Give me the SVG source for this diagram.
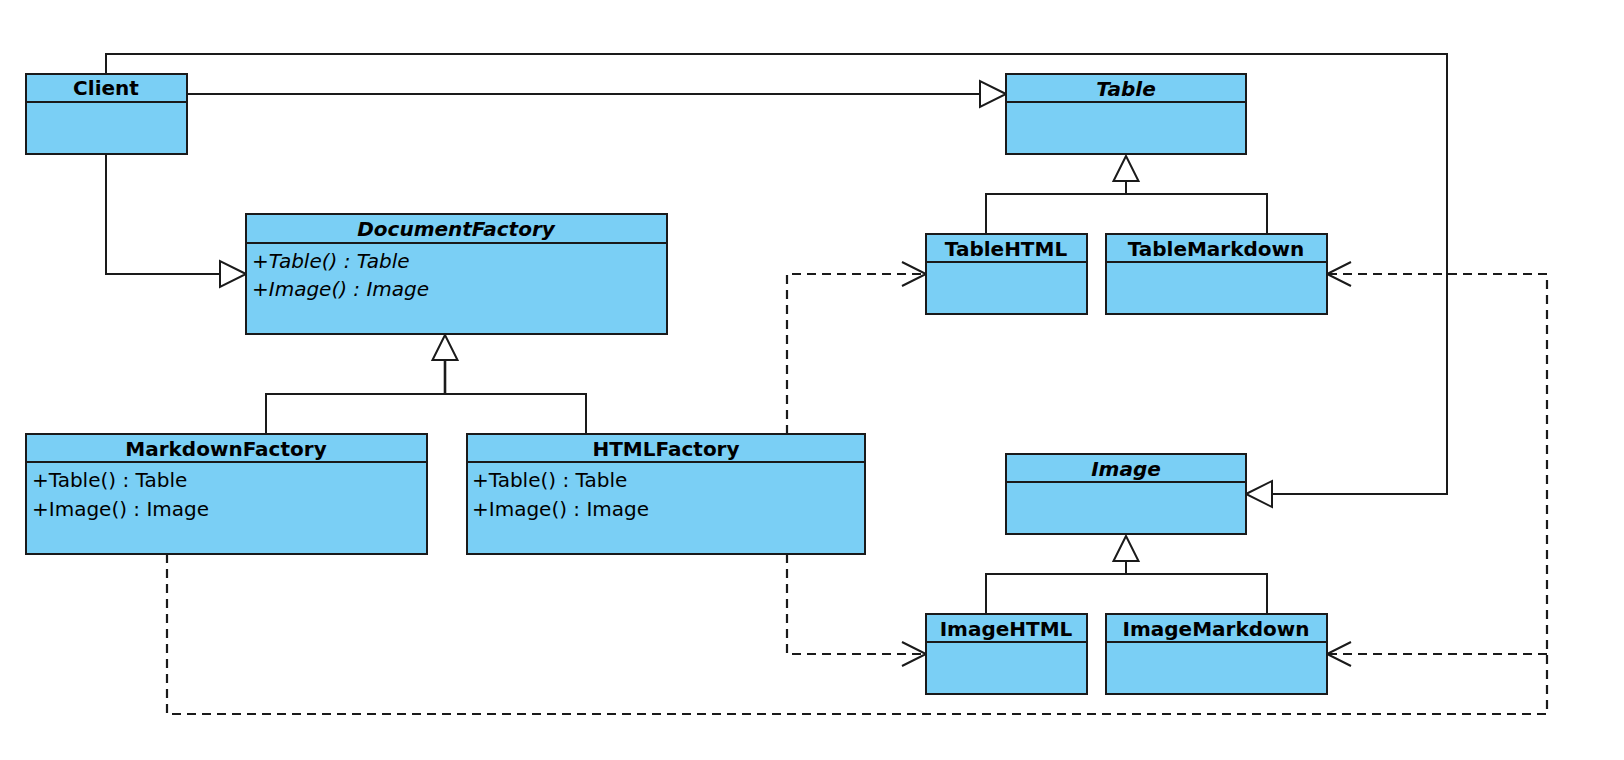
<svg xmlns="http://www.w3.org/2000/svg" width="1624" height="760" viewBox="0 0 1624 760">
<style>
.box{fill:#7acff5;stroke:#1a1a1a;stroke-width:2}
.div{stroke:#1a1a1a;stroke-width:2}
.t{font-family:"DejaVu Sans",sans-serif;font-size:20px;fill:#000}
.b{font-weight:bold}
.i{font-style:italic}
.ln{fill:none;stroke:#1a1a1a;stroke-width:2}
.dl{fill:none;stroke:#1a1a1a;stroke-width:2.2;stroke-dasharray:9,6}
.tri{fill:#fff;stroke:#1a1a1a;stroke-width:2}
.open{fill:none;stroke:#1a1a1a;stroke-width:2}
</style>
<rect width="1624" height="760" fill="#fff"/>
<g id="connectors">
  <path class="ln" d="M106,74 V54 H1447 V494 H1272"/>
  <polygon class="tri" points="1246,494 1272,481 1272,507"/>
  <path class="ln" d="M187,94 H980"/>
  <polygon class="tri" points="1006,94 980,81 980,107"/>
  <path class="ln" d="M106,154 V274 H220"/>
  <polygon class="tri" points="246,274 220,261 220,287"/>
  <path class="ln" d="M266,434 V394 H586 V434"/>
  <path class="ln" d="M445,394 V360" style="stroke-width:2.6"/>
  <polygon class="tri" points="445,335 432.5,360 457.5,360"/>
  <path class="ln" d="M986,234 V194 H1267 V234"/>
  <path class="ln" d="M1126,194 V181"/>
  <polygon class="tri" points="1126,156 1113.5,181 1138.5,181"/>
  <path class="ln" d="M986,614 V574 H1267 V614"/>
  <path class="ln" d="M1126,574 V561"/>
  <polygon class="tri" points="1126,536 1113.5,561 1138.5,561"/>
  <path class="dl" d="M787,434 V274 H925"/>
  <polyline class="open" points="902,262 926,274 902,286"/>
  <path class="dl" d="M787,554 V654 H925"/>
  <polyline class="open" points="902,642 926,654 902,666"/>
  <path class="dl" d="M167,554 V714 H1547 V274 H1328"/>
  <polyline class="open" points="1351,262 1327,274 1351,286"/>
  <path class="dl" d="M1547,654 H1328"/>
  <polyline class="open" points="1351,642 1327,654 1351,666"/>
</g>
<g id="Client">
  <rect class="box" x="26" y="74" width="161" height="80"/>
  <line class="div" x1="26" y1="102" x2="187" y2="102"/>
  <text class="t b" x="106" y="95" text-anchor="middle">Client</text>
</g>
<g id="Table">
  <rect class="box" x="1006" y="74" width="240" height="80"/>
  <line class="div" x1="1006" y1="102" x2="1246" y2="102"/>
  <text class="t b i" x="1126" y="96" text-anchor="middle">Table</text>
</g>
<g id="DocumentFactory">
  <rect class="box" x="246" y="214" width="421" height="120"/>
  <line class="div" x1="246" y1="243" x2="667" y2="243"/>
  <text class="t b i" x="456" y="236" text-anchor="middle">DocumentFactory</text>
  <text class="t i" x="252" y="268">+Table() : Table</text>
  <text class="t i" x="252" y="296">+Image() : Image</text>
</g>
<g id="TableHTML">
  <rect class="box" x="926" y="234" width="161" height="80"/>
  <line class="div" x1="926" y1="262" x2="1087" y2="262"/>
  <text class="t b" x="1006" y="256" text-anchor="middle">TableHTML</text>
</g>
<g id="TableMarkdown">
  <rect class="box" x="1106" y="234" width="221" height="80"/>
  <line class="div" x1="1106" y1="262" x2="1327" y2="262"/>
  <text class="t b" x="1216" y="256" text-anchor="middle">TableMarkdown</text>
</g>
<g id="MarkdownFactory">
  <rect class="box" x="26" y="434" width="401" height="120"/>
  <line class="div" x1="26" y1="462" x2="427" y2="462"/>
  <text class="t b" x="226" y="456" text-anchor="middle">MarkdownFactory</text>
  <text class="t" x="32" y="487">+Table() : Table</text>
  <text class="t" x="32" y="516">+Image() : Image</text>
</g>
<g id="HTMLFactory">
  <rect class="box" x="467" y="434" width="398" height="120"/>
  <line class="div" x1="467" y1="462" x2="865" y2="462"/>
  <text class="t b" x="666" y="456" text-anchor="middle">HTMLFactory</text>
  <text class="t" x="472" y="487">+Table() : Table</text>
  <text class="t" x="472" y="516">+Image() : Image</text>
</g>
<g id="Image">
  <rect class="box" x="1006" y="454" width="240" height="80"/>
  <line class="div" x1="1006" y1="482" x2="1246" y2="482"/>
  <text class="t b i" x="1126" y="476" text-anchor="middle">Image</text>
</g>
<g id="ImageHTML">
  <rect class="box" x="926" y="614" width="161" height="80"/>
  <line class="div" x1="926" y1="642" x2="1087" y2="642"/>
  <text class="t b" x="1006" y="636" text-anchor="middle">ImageHTML</text>
</g>
<g id="ImageMarkdown">
  <rect class="box" x="1106" y="614" width="221" height="80"/>
  <line class="div" x1="1106" y1="642" x2="1327" y2="642"/>
  <text class="t b" x="1216" y="636" text-anchor="middle">ImageMarkdown</text>
</g>
</svg>
